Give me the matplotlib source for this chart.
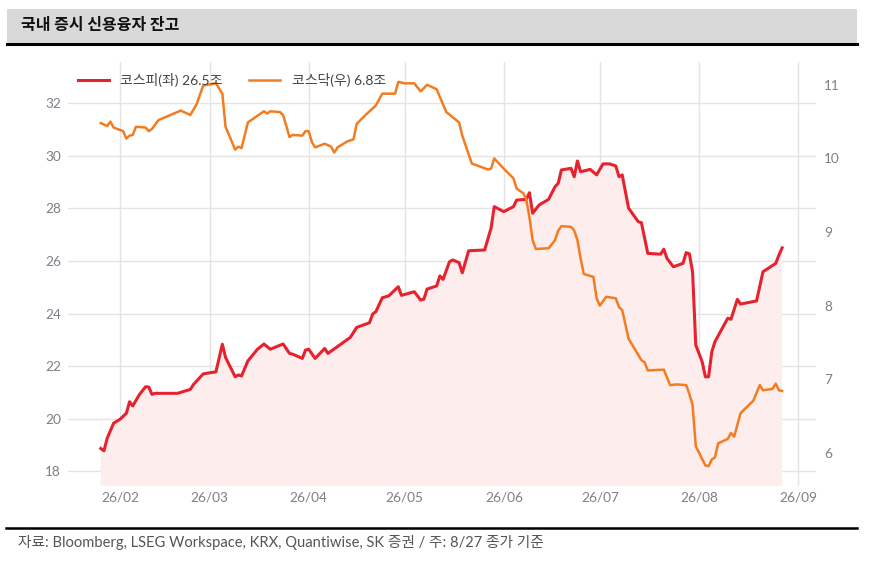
import matplotlib
matplotlib.use("Agg")
import matplotlib.pyplot as plt
import matplotlib.dates as mdates
from matplotlib.patches import Rectangle
from matplotlib.lines import Line2D
import pandas as pd

plt.rcParams['font.family'] = ['Lato', 'Noto Sans CJK KR', 'DejaVu Sans']

title = "국내 증시 신용융자 잔고"
footer = "자료: Bloomberg, LSEG Workspace, KRX, Quantiwise, SK 증권 / 주: 8/27 종가 기준"
kospi_label = "코스피(좌) 26.5조"
kosdaq_label = "코스닥(우) 6.8조"

kospi_dates = ["2026-01-26", "2026-01-27", "2026-01-28", "2026-01-30", "2026-02-01", "2026-02-03",
               "2026-02-04", "2026-02-05", "2026-02-07", "2026-02-09", "2026-02-10", "2026-02-11",
               "2026-02-12", "2026-02-19", "2026-02-23", "2026-02-24", "2026-02-27", "2026-03-03",
               "2026-03-05", "2026-03-06", "2026-03-09", "2026-03-10", "2026-03-11", "2026-03-13",
               "2026-03-16", "2026-03-18", "2026-03-20", "2026-03-24", "2026-03-26", "2026-03-27",
               "2026-03-30", "2026-03-31", "2026-04-01", "2026-04-03", "2026-04-06", "2026-04-07",
               "2026-04-10", "2026-04-14", "2026-04-16", "2026-04-20", "2026-04-21", "2026-04-22",
               "2026-04-24", "2026-04-26", "2026-04-29", "2026-04-30", "2026-05-04", "2026-05-06",
               "2026-05-07", "2026-05-08", "2026-05-11", "2026-05-12", "2026-05-13", "2026-05-15",
               "2026-05-16", "2026-05-18", "2026-05-19", "2026-05-21", "2026-05-26", "2026-05-28",
               "2026-05-29", "2026-06-01", "2026-06-04", "2026-06-05", "2026-06-08", "2026-06-09",
               "2026-06-10", "2026-06-12", "2026-06-15", "2026-06-17", "2026-06-18", "2026-06-19",
               "2026-06-22", "2026-06-23", "2026-06-24", "2026-06-25", "2026-06-28", "2026-06-30",
               "2026-07-02", "2026-07-04", "2026-07-06", "2026-07-07", "2026-07-08", "2026-07-10",
               "2026-07-13", "2026-07-14", "2026-07-16", "2026-07-20", "2026-07-21", "2026-07-22",
               "2026-07-24", "2026-07-27", "2026-07-28", "2026-07-29", "2026-07-30", "2026-07-31",
               "2026-08-02", "2026-08-03", "2026-08-04", "2026-08-05", "2026-08-06", "2026-08-10",
               "2026-08-11", "2026-08-13", "2026-08-14", "2026-08-19", "2026-08-21", "2026-08-25",
               "2026-08-26", "2026-08-27"]
kospi_values = [18.86, 18.77, 19.25, 19.82, 19.97, 20.20,
                20.64, 20.48, 20.90, 21.21, 21.20, 20.92,
                20.96, 20.96, 21.11, 21.30, 21.70, 21.78,
                22.83, 22.33, 21.59, 21.66, 21.62, 22.20,
                22.64, 22.84, 22.64, 22.84, 22.48, 22.45,
                22.29, 22.61, 22.64, 22.29, 22.67, 22.48,
                22.74, 23.09, 23.47, 23.65, 23.98, 24.07,
                24.60, 24.67, 25.02, 24.69, 24.83, 24.51,
                24.55, 24.93, 25.05, 25.43, 25.30, 25.97,
                26.04, 25.94, 25.55, 26.39, 26.42, 27.25,
                28.07, 27.88, 28.07, 28.32, 28.35, 28.60,
                27.82, 28.13, 28.35, 28.83, 28.96, 29.47,
                29.53, 29.21, 29.81, 29.40, 29.49, 29.28,
                29.70, 29.70, 29.62, 29.21, 29.28, 28.01,
                27.50, 27.46, 26.29, 26.26, 26.45, 26.10,
                25.78, 25.91, 26.32, 26.27, 25.59, 22.80,
                22.16, 21.59, 21.59, 22.54, 22.93, 23.82,
                23.78, 24.54, 24.36, 24.48, 25.59, 25.91,
                26.23, 26.50]

kosdaq_dates = ["2026-01-26", "2026-01-28", "2026-01-29", "2026-01-30", "2026-02-02", "2026-02-03",
                "2026-02-04", "2026-02-05", "2026-02-06", "2026-02-09", "2026-02-10", "2026-02-11",
                "2026-02-13", "2026-02-20", "2026-02-23", "2026-02-25", "2026-02-27", "2026-03-03",
                "2026-03-05", "2026-03-06", "2026-03-09", "2026-03-10", "2026-03-11", "2026-03-13",
                "2026-03-18", "2026-03-19", "2026-03-20", "2026-03-23", "2026-03-24", "2026-03-26",
                "2026-03-27", "2026-03-30", "2026-03-31", "2026-04-01", "2026-04-02", "2026-04-03",
                "2026-04-06", "2026-04-08", "2026-04-09", "2026-04-10", "2026-04-13", "2026-04-15",
                "2026-04-16", "2026-04-19", "2026-04-22", "2026-04-24", "2026-04-28", "2026-04-29",
                "2026-05-01", "2026-05-04", "2026-05-06", "2026-05-08", "2026-05-11", "2026-05-14",
                "2026-05-18", "2026-05-19", "2026-05-22", "2026-05-27", "2026-05-28", "2026-05-29",
                "2026-06-01", "2026-06-04", "2026-06-05", "2026-06-07", "2026-06-08", "2026-06-09",
                "2026-06-10", "2026-06-11", "2026-06-15", "2026-06-17", "2026-06-18", "2026-06-19",
                "2026-06-22", "2026-06-23", "2026-06-24", "2026-06-25", "2026-06-26", "2026-06-29",
                "2026-06-30", "2026-07-01", "2026-07-03", "2026-07-06", "2026-07-07", "2026-07-08",
                "2026-07-10", "2026-07-14", "2026-07-15", "2026-07-16", "2026-07-21", "2026-07-23",
                "2026-07-25", "2026-07-28", "2026-07-29", "2026-07-30", "2026-07-31", "2026-08-03",
                "2026-08-04", "2026-08-05", "2026-08-06", "2026-08-07", "2026-08-10", "2026-08-11",
                "2026-08-12", "2026-08-14", "2026-08-18", "2026-08-20", "2026-08-21", "2026-08-24",
                "2026-08-25", "2026-08-26", "2026-08-27"]
kosdaq_values = [10.48, 10.44, 10.50, 10.42, 10.37, 10.27,
                 10.31, 10.32, 10.43, 10.42, 10.37, 10.40,
                 10.52, 10.65, 10.59, 10.74, 10.99, 11.02,
                 10.88, 10.43, 10.12, 10.16, 10.14, 10.49,
                 10.64, 10.61, 10.64, 10.63, 10.59, 10.29,
                 10.32, 10.31, 10.37, 10.37, 10.22, 10.15,
                 10.20, 10.16, 10.08, 10.15, 10.23, 10.26,
                 10.47, 10.60, 10.72, 10.88, 10.88, 11.04,
                 11.02, 11.02, 10.91, 11.00, 10.94, 10.63,
                 10.49, 10.31, 9.93, 9.85, 9.86, 10.00,
                 9.86, 9.73, 9.59, 9.53, 9.45, 9.20,
                 8.89, 8.77, 8.78, 8.89, 9.02, 9.08,
                 9.07, 9.02, 8.89, 8.64, 8.43, 8.39,
                 8.10, 8.00, 8.12, 8.10, 7.98, 7.94,
                 7.55, 7.26, 7.23, 7.12, 7.13, 6.92,
                 6.93, 6.92, 6.80, 6.65, 6.09, 5.83,
                 5.82, 5.91, 5.94, 6.13, 6.19, 6.27,
                 6.22, 6.54, 6.71, 6.92, 6.85, 6.87,
                 6.94, 6.85, 6.84]

left_ticks = [18, 20, 22, 24, 26, 28, 30, 32]
right_ticks = [6, 7, 8, 9, 10, 11]
month_ticks = ["2026-02-01", "2026-03-01", "2026-04-01", "2026-05-01",
               "2026-06-01", "2026-07-01", "2026-08-01", "2026-09-01"]

kd = pd.to_datetime(kospi_dates)
qd = pd.to_datetime(kosdaq_dates)

W, H = 872, 561
fig = plt.figure(figsize=(W / 100, H / 100), dpi=100)

# title band
fig.add_artist(Rectangle((7 / W, 1 - 43 / H), 850 / W, 34 / H, transform=fig.transFigure,
                         facecolor='#d9d9d9', edgecolor='none'))
fig.add_artist(Line2D([7 / W, 857 / W], [1 - 43.5 / H, 1 - 43.5 / H], transform=fig.transFigure,
                      color='black', lw=2.2))
fig.text(21 / W, 1 - 25 / H, title, fontsize=11.5, fontweight='bold', va='center', ha='left',
         family=['Noto Sans CJK KR', 'DejaVu Sans'], color='#111111')
# footer
fig.add_artist(Line2D([6 / W, 857 / W], [1 - 527.5 / H, 1 - 527.5 / H], transform=fig.transFigure,
                      color='black', lw=1.8))
fig.text(18 / W, 1 - 543 / H, footer, fontsize=10.6, va='center', ha='left', color='#555555')

ax = fig.add_axes([68 / W, 1 - 486 / H, 748 / W, 424 / H])
ax2 = ax.twinx()

red = '#e8212e'
orange = '#f47c20'

ax.fill_between(kd, kospi_values, 0, color='#fdeded', lw=0, zorder=1)
l1, = ax.plot(kd, kospi_values, color=red, lw=2.2, zorder=3, label=kospi_label)
l2, = ax2.plot(qd, kosdaq_values, color=orange, lw=1.8, zorder=3, label=kosdaq_label)

ax.set_ylim(17.43, 33.58)
ax2.set_ylim(5.55, 11.31)
ax.set_xlim(pd.Timestamp("2026-01-15 18:00"), pd.Timestamp("2026-09-06 14:00"))

ax.set_yticks(left_ticks)
ax2.set_yticks(right_ticks)
ax.set_xticks(pd.to_datetime(month_ticks))
ax.xaxis.set_major_formatter(mdates.DateFormatter('%y/%m'))

for a in (ax, ax2):
    for s in a.spines.values():
        s.set_visible(False)
    a.tick_params(length=0, labelsize=9.8, colors='#7e7f89')
ax.tick_params(axis='y', pad=5)
ax2.tick_params(axis='y', pad=6)
ax.tick_params(axis='x', pad=4)

ax.grid(True, color='#e4e4e4', lw=1)
ax.set_axisbelow(True)
ax2.grid(False)

ax2.legend(handles=[l1, l2], loc='center left', bbox_to_anchor=(0.0134, 0.9575), ncol=2,
           frameon=False, borderpad=0, borderaxespad=0, handlelength=2.2, handletextpad=0.85,
           columnspacing=1.9, fontsize=10, labelcolor='#444444')

fig.savefig("out.png", dpi=100)
